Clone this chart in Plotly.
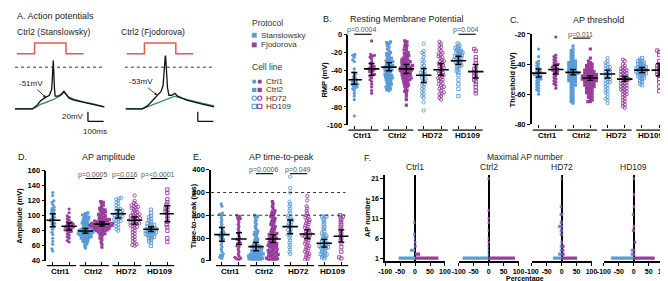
import math
import plotly.graph_objects as go

W, H = 668, 281
BLUE = '#5B9BD5'
PURPLE = '#983D9C'
RED = '#E8574E'
TEAL = '#3F8A78'
TXT = '#222222'
GREY = '#555555'
FONT = 'Liberation Sans, Arial, sans-serif'

cell_lines = ['Ctrl1', 'Ctrl2', 'HD72', 'HD109']
protocols = ['Stanslowsky', 'Fjodorova']
protocol_colors = [BLUE, PURPLE]
line_symbols = ['circle', 'square', 'circle-open', 'square-open']

# ---------------- Panel A: example traces (ms, mV) ----------------
stim_time = [12, 125, 325, 437]
stim_level = [0, 1, 0, 0]
a1_spike_t = [0, 112, 137, 162, 187, 219, 234, 244, 252, 256, 275, 294, 312, 325, 344, 375, 437, 500, 569]
a1_spike_v = [-86, -86, -80, -70, -64, -58, -46, 14, -46, -60, -60, -56, -50, -56, -64, -68, -72, -76, -82]
a1_sub_t = [0, 112, 137, 162, 187, 219, 250, 294, 312, 325, 344, 375, 437, 500, 569]
a1_sub_v = [-86, -86, -82, -77, -74, -70, -66, -58, -52, -56, -62, -66, -72, -76, -82]
a2_spike_t = [6, 112, 144, 175, 206, 231, 244, 259, 272, 281, 300, 319, 337, 394, 487, 569]
a2_spike_v = [-86, -86, -80, -70, -60, -50, -38, 28, -42, -58, -58, -54, -60, -68, -76, -82]
a2_sub_t = [6, 112, 175, 237, 319, 362, 456, 569]
a2_sub_v = [-86, -86, -78, -70, -60, -64, -72, -80]

# ---------------- Panel B: resting membrane potential (mV) ----------------
rmp_ctrl1_s = [-22, -23, -25, -28, -30, -38, -42, -44, -46, -48, -49, -50, -51, -52, -53, -54, -55, -55, -56, -57, -58, -59, -60, -62, -65, -68, -72, -90]
rmp_ctrl1_f = [-7, -22, -23, -24, -25, -27, -30, -32, -34, -35, -36, -37, -38, -38, -39, -40, -41, -42, -44, -45, -46, -48, -50, -52, -55, -58, -62, -65]
rmp_ctrl2_s = [-8, -9, -10, -12, -14, -16, -18, -20, -21, -22, -24, -25, -26, -27, -28, -29, -30, -30, -31, -32, -33, -34, -35, -35, -36, -37, -38, -38, -39, -40, -40, -41, -42, -43, -44, -45, -45, -46, -47, -48, -49, -50, -51, -52, -53, -54, -55, -56, -57, -58, -59, -60, -61, -62, -48]
rmp_ctrl2_f = [-7, -8, -10, -12, -13, -15, -17, -18, -20, -21, -22, -23, -24, -25, -26, -27, -28, -28, -29, -30, -30, -31, -32, -32, -33, -34, -34, -35, -35, -36, -36, -37, -37, -38, -38, -39, -39, -40, -40, -41, -41, -42, -42, -43, -44, -44, -45, -46, -46, -47, -48, -48, -49, -50, -50, -51, -52, -53, -54, -55, -56, -57, -58, -60, -62, -63, -65, -68, -72, -78]
rmp_hd72_s = [-10, -18, -20, -22, -25, -28, -30, -32, -34, -36, -38, -40, -41, -42, -43, -44, -45, -46, -48, -49, -50, -52, -53, -55, -56, -58, -60, -62, -64, -66, -68, -70, -75, -84]
rmp_hd72_f = [-8, -10, -12, -14, -16, -18, -20, -21, -22, -24, -25, -26, -28, -29, -30, -31, -32, -33, -34, -35, -36, -37, -38, -39, -40, -41, -42, -43, -44, -45, -46, -47, -48, -49, -50, -51, -52, -54, -55, -56, -58, -59, -60, -62, -64, -65, -66, -68, -70, -72]
rmp_hd109_s = [-10, -12, -14, -15, -16, -17, -18, -19, -20, -20, -21, -22, -23, -24, -24, -25, -26, -27, -28, -28, -29, -30, -31, -32, -33, -34, -35, -36, -38, -40, -42, -45, -50, -55, -60, -68]
rmp_hd109_f = [-16, -18, -25, -28, -32, -35, -38, -40, -42, -44, -46, -48, -50, -52, -55, -58, -62, -65]
rmp_mean = [-50, -38, -36, -38, -45, -39, -29, -41]
rmp_lo = [-55, -45, -40, -43, -53, -45, -33, -48]
rmp_hi = [-42, -32, -31, -33, -37.5, -32, -24, -33]
rmp_ticks = [0, -20, -40, -60, -80, -100]
rmp_p_pairs = [0, 3]
rmp_p_text = ['p=0.0004', 'p=0.004']

# ---------------- Panel C: AP threshold (mV) ----------------
thr_ctrl1_s = [-30, -35, -38, -39, -40, -41, -42, -43, -44, -45, -45, -46, -47, -47, -48, -48, -49, -50, -50, -51, -52, -53, -54, -55, -56, -57, -58, -60]
thr_ctrl1_f = [-22, -34, -35, -36, -37, -38, -39, -40, -40, -41, -42, -42, -43, -43, -44, -44, -45, -45, -46, -47, -48, -49, -50, -51, -52, -53, -54, -56]
thr_ctrl2_s = [-28, -30, -31, -32, -33, -34, -35, -36, -37, -38, -38, -39, -39, -40, -40, -41, -41, -42, -42, -43, -43, -44, -44, -45, -45, -46, -46, -47, -47, -48, -48, -49, -49, -50, -50, -51, -51, -52, -52, -53, -54, -54, -55, -56, -57, -58, -59, -60, -61, -62, -63, -64, -65, -66, -46]
thr_ctrl2_f = [-30, -36, -38, -39, -40, -40, -41, -41, -42, -42, -43, -43, -44, -44, -44, -45, -45, -45, -46, -46, -46, -47, -47, -47, -48, -48, -48, -48, -49, -49, -49, -49, -50, -50, -50, -50, -51, -51, -51, -51, -52, -52, -52, -53, -53, -53, -54, -54, -54, -55, -55, -55, -56, -56, -57, -57, -58, -58, -59, -59, -60, -60, -61, -62, -62, -63, -64, -65, -65, -47]
thr_hd72_s = [-36, -38, -39, -40, -41, -42, -42, -43, -44, -44, -45, -46, -46, -47, -48, -48, -49, -50, -50, -51, -52, -52, -53, -54, -55, -56, -57, -58, -59, -60, -62, -63, -64, -66]
thr_hd72_f = [-37, -38, -40, -41, -42, -43, -43, -44, -44, -45, -45, -46, -46, -47, -47, -48, -48, -49, -49, -50, -50, -50, -51, -51, -52, -52, -53, -53, -54, -54, -55, -55, -56, -56, -57, -57, -58, -58, -59, -60, -60, -61, -62, -63, -64, -65, -66, -67, -68, -69]
thr_hd109_s = [-36, -37, -38, -38, -39, -39, -40, -40, -41, -41, -42, -42, -42, -43, -43, -43, -44, -44, -44, -45, -45, -45, -46, -46, -46, -47, -47, -48, -48, -49, -49, -50, -51, -52, -53, -54]
thr_hd109_f = [-31, -32, -34, -38, -40, -41, -42, -43, -44, -45, -46, -46, -47, -48, -50, -52, -55, -58]
thr_mean = [-46, -43.6, -45.5, -49.3, -46.6, -50, -44, -44]
thr_lo = [-48.7, -46.6, -47.2, -50.8, -49.3, -51.5, -45.7, -47.8]
thr_hi = [-43.3, -40.8, -43.6, -47.8, -44, -48.3, -42.3, -39.7]
thr_ticks = [-20, -40, -60, -80]
thr_p_pairs = [1]
thr_p_text = ['p=0.011']

# ---------------- Panel D: AP amplitude (mV) ----------------
amp_ctrl1_s = [53, 56, 62, 66, 70, 75, 78, 82, 85, 87, 89, 90, 92, 93, 95, 96, 98, 100, 102, 103, 105, 107, 108, 110, 112, 115, 118, 120, 127, 131]
amp_ctrl1_f = [65, 67, 70, 72, 74, 76, 78, 79, 80, 81, 82, 83, 84, 85, 85, 86, 87, 88, 89, 90, 91, 92, 94, 96, 98, 100, 104, 109]
amp_ctrl2_s = [57, 60, 62, 64, 65, 66, 67, 68, 69, 70, 70, 71, 72, 72, 73, 74, 74, 75, 75, 76, 76, 77, 77, 78, 78, 79, 79, 80, 80, 81, 81, 82, 82, 83, 84, 84, 85, 86, 87, 88, 89, 90, 91, 92, 93, 94, 95, 96, 97, 98, 99, 100, 101, 103, 104]
amp_ctrl2_f = [58, 62, 65, 68, 70, 72, 74, 75, 76, 77, 78, 79, 80, 80, 81, 81, 82, 82, 83, 83, 84, 84, 85, 85, 85, 86, 86, 86, 87, 87, 87, 88, 88, 88, 89, 89, 89, 90, 90, 90, 91, 91, 92, 92, 93, 93, 94, 94, 95, 95, 96, 97, 98, 99, 100, 101, 102, 103, 104, 105, 106, 107, 108, 109, 110, 112, 114, 116, 118, 119]
amp_hd72_s = [80, 82, 84, 86, 88, 90, 92, 93, 94, 95, 96, 97, 98, 99, 100, 100, 101, 102, 103, 104, 105, 106, 107, 108, 109, 110, 112, 114, 116, 118, 120, 122, 123, 124]
amp_hd72_f = [60, 61, 62, 64, 66, 68, 70, 72, 74, 76, 78, 80, 82, 84, 85, 86, 87, 88, 89, 90, 90, 91, 92, 93, 94, 95, 96, 96, 97, 98, 99, 100, 100, 101, 102, 103, 104, 105, 106, 108, 109, 110, 111, 112, 113, 114, 115, 117, 120, 127]
amp_hd109_s = [60, 64, 66, 68, 70, 71, 72, 73, 74, 75, 76, 76, 77, 78, 78, 79, 80, 80, 81, 82, 82, 83, 84, 85, 86, 87, 88, 89, 90, 92, 94, 96, 98, 100, 104, 108]
amp_hd109_f = [65, 70, 80, 85, 88, 92, 96, 100, 104, 106, 108, 110, 112, 115, 118, 122, 130, 135]
amp_mean = [94, 86, 79.7, 88.8, 102.6, 94, 82, 102.6]
amp_lo = [85.3, 81, 76.7, 86.2, 97, 88.8, 79, 92]
amp_hi = [102.6, 90.5, 83, 91.8, 107.8, 98.3, 85.3, 113.4]
amp_ticks = [40, 60, 80, 100, 120, 140, 160]
amp_p_pairs = [1, 2, 3]
amp_p_text = ['p=0.0005', 'p=0.016', 'p=<0.0001']

# ---------------- Panel E: AP time-to-peak (ms) ----------------
ttp_ctrl1_s = [10, 15, 20, 25, 30, 40, 50, 60, 70, 80, 90, 95, 100, 105, 110, 115, 120, 125, 130, 140, 150, 160, 170, 180, 190, 200, 205, 210, 240, 250]
ttp_ctrl1_f = [5, 8, 12, 15, 20, 30, 40, 50, 60, 65, 70, 75, 80, 90, 95, 100, 110, 120, 130, 140, 150, 160, 170, 180, 185, 190, 195, 200]
ttp_ctrl2_s = [0, 2, 3, 5, 6, 8, 10, 12, 14, 15, 16, 18, 20, 22, 24, 25, 26, 28, 30, 32, 34, 35, 38, 40, 42, 45, 48, 50, 52, 55, 58, 60, 62, 65, 68, 70, 75, 80, 85, 90, 95, 100, 110, 115, 120, 125, 130, 140, 150, 160, 170, 180, 190, 195, 200]
ttp_ctrl2_f = [0, 2, 4, 6, 8, 10, 12, 15, 18, 20, 22, 25, 28, 30, 32, 35, 38, 40, 42, 45, 48, 50, 55, 58, 60, 62, 65, 68, 70, 72, 75, 78, 80, 85, 88, 90, 95, 98, 100, 105, 110, 112, 115, 120, 125, 130, 135, 140, 145, 150, 155, 160, 165, 170, 175, 180, 185, 190, 195, 200, 205, 210, 215, 220, 230, 240, 250, 260, 100, 120]
ttp_hd72_s = [30, 40, 50, 60, 70, 80, 90, 100, 110, 115, 120, 130, 135, 140, 150, 155, 160, 165, 170, 175, 180, 185, 190, 195, 200, 210, 220, 230, 240, 250, 260, 300, 320, 370]
ttp_hd72_f = [0, 5, 10, 15, 20, 25, 30, 35, 40, 45, 50, 55, 60, 65, 70, 75, 80, 85, 90, 95, 100, 105, 108, 110, 112, 115, 118, 120, 125, 130, 135, 140, 145, 150, 155, 160, 165, 170, 175, 180, 185, 190, 195, 200, 210, 220, 230, 240, 265, 285]
ttp_hd109_s = [10, 15, 20, 25, 28, 30, 35, 40, 45, 50, 55, 58, 60, 62, 65, 68, 70, 75, 80, 85, 90, 95, 100, 105, 110, 115, 120, 130, 140, 150, 160, 170, 180, 190, 195, 195]
ttp_hd109_f = [10, 15, 40, 60, 80, 90, 100, 110, 120, 130, 140, 150, 160, 170, 180, 190, 200, 195]
ttp_mean = [115, 96, 62, 96, 150, 118, 77, 108]
ttp_lo = [86, 72, 44, 80, 119, 98, 60, 82]
ttp_hi = [146, 123, 81, 115, 179, 136, 94, 136]
ttp_ticks = [0, 100, 200, 300, 400]
ttp_ref_lines = [200, 300]
ttp_p_pairs = [1, 2]
ttp_p_text = ['p=0.0006', 'p=0.049']

# ---------------- Panel F: maximal AP number (% of cells) ----------------
ap_number = list(range(1, 22))
ap_ticks = [1, 6, 11, 16, 21]
pct_ticks = [-100, -50, 0, 50, 100]
ctrl1_s_pct = [55, 0, 17, 0, 3, 3, 5, 0, 0, 5, 0, 0, 0, 0, 0, 0, 0, 0, 0, 0, 0]
ctrl1_f_pct = [78, 17, 0, 5, 4, 0, 0, 0, 0, 0, 0, 0, 0, 0, 0, 0, 0, 0, 0, 0, 0]
ctrl2_s_pct = [87, 3, 3, 3, 0, 3, 0, 3, 0, 0, 0, 0, 0, 0, 0, 0, 0, 0, 0, 0, 0]
ctrl2_f_pct = [88, 0, 0, 0, 4, 0, 0, 0, 0, 4, 4, 0, 4, 0, 0, 0, 0, 0, 0, 0, 4]
hd72_s_pct = [29, 12, 5, 5, 3, 0, 5, 5, 12, 5, 0, 7, 0, 5, 0, 0, 0, 0, 0, 0, 3]
hd72_f_pct = [52, 10, 9, 10, 4, 0, 5, 4, 4, 4, 0, 5, 0, 0, 0, 0, 0, 0, 0, 0, 0]
hd109_s_pct = [76, 10, 10, 0, 0, 0, 0, 4, 0, 0, 0, 5, 0, 0, 0, 0, 0, 0, 0, 0, 0]
hd109_f_pct = [70, 5, 5, 0, 8, 0, 0, 4, 4, 0, 0, 0, 0, 4, 0, 0, 4, 0, 0, 0, 4]
f_stans = [ctrl1_s_pct, ctrl2_s_pct, hd72_s_pct, hd109_s_pct]
f_fjod = [ctrl1_f_pct, ctrl2_f_pct, hd72_f_pct, hd109_f_pct]


def PX(px):
    return px / W


def PY(py):
    return 1 - py / H


def swarm(vals, ppu, d):
    """Beeswarm offsets (px) for values, ppu = px per data unit."""
    n = len(vals)
    order = sorted(range(n), key=lambda i: vals[i])
    placed = []
    offs = [0.0] * n
    for i in order:
        y = vals[i] * ppu
        near = [(xj, yj) for (xj, yj) in placed if abs(y - yj) < d]
        cands = [0.0]
        for xj, yj in near:
            dx = math.sqrt(max(d * d - (y - yj) ** 2, 0))
            cands += [xj + dx, xj - dx]
        cands.sort(key=lambda c: (abs(c), c))
        for c in cands:
            if all((c - xj) ** 2 + (y - yj) ** 2 >= d * d - 1e-6 for xj, yj in near):
                offs[i] = c
                placed.append((c, y))
                break
    return offs


fig = go.Figure()
layout = dict(width=W, height=H, margin=dict(l=0, r=0, t=0, b=0),
              paper_bgcolor='white', plot_bgcolor='white', showlegend=False,
              barmode='overlay', font=dict(family=FONT, color=TXT))
annotations = []
shapes = []


def ann(text, px, py, size=8, xanchor='center', bold=False, color=TXT, angle=0):
    annotations.append(dict(text=('<b>%s</b>' % text) if bold else text, x=PX(px), y=PY(py),
                            xref='paper', yref='paper', showarrow=False, xanchor=xanchor,
                            yanchor='middle', textangle=angle,
                            font=dict(size=size, color=color, family=FONT)))


def hline_px(x0, x1, py, width=1, color='black', dash='solid'):
    shapes.append(dict(type='line', xref='paper', yref='paper', x0=PX(x0), x1=PX(x1),
                       y0=PY(py), y1=PY(py), line=dict(color=color, width=width, dash=dash)))


# ---------------- Panel A ----------------
hidden = dict(visible=False, showgrid=False, zeroline=False)
layout['xaxis'] = dict(domain=[PX(0), PX(100)], range=[0, 625], anchor='y', **hidden)
layout['yaxis'] = dict(domain=[PY(125), PY(28)], range=[-136, 58], anchor='x', **hidden)
layout['xaxis2'] = dict(domain=[PX(112), PX(212)], range=[0, 625], anchor='y2', **hidden)
layout['yaxis2'] = dict(domain=[PY(125), PY(28)], range=[-136, 58], anchor='x2', **hidden)
layout['yaxis11'] = dict(domain=[PY(45), PY(30)], range=[-0.18, 1.18], anchor='x', **hidden)
layout['yaxis12'] = dict(domain=[PY(45), PY(30)], range=[-0.18, 1.18], anchor='x2', **hidden)

for xa, ya, sa, st, sv, kt, kv in [('x', 'y', 'y11', a1_sub_t, a1_sub_v, a1_spike_t, a1_spike_v),
                                   ('x2', 'y2', 'y12', a2_sub_t, a2_sub_v, a2_spike_t, a2_spike_v)]:
    fig.add_trace(go.Scatter(x=stim_time, y=stim_level, mode='lines', line=dict(color=RED, width=1.5, shape='hv'),
                             xaxis=xa, yaxis=sa, hoverinfo='skip'))
    fig.add_trace(go.Scatter(x=st, y=sv, mode='lines', line=dict(color=TEAL, width=1.4),
                             xaxis=xa, yaxis=ya, hoverinfo='skip'))
    fig.add_trace(go.Scatter(x=kt, y=kv, mode='lines', line=dict(color='#111111', width=1.3),
                             xaxis=xa, yaxis=ya, hoverinfo='skip'))
    shapes.append(dict(type='line', xref=xa, yref=ya, x0=0, x1=565, y0=0, y1=0,
                       line=dict(color='#333333', width=1, dash='dot')))
    # scale bars: 20 mV, 100 ms
    shapes.append(dict(type='line', xref=xa, yref=ya, x0=465, x1=465, y0=-112, y1=-92,
                       line=dict(color='#111111', width=1.3)))
    shapes.append(dict(type='line', xref=xa, yref=ya, x0=465, x1=565, y0=-112, y1=-112,
                       line=dict(color='#111111', width=1.3)))

annotations.append(dict(text='-51mV', x=198, y=-63, xref='x', yref='y', ax=100, ay=-34, axref='x', ayref='y',
                        showarrow=True, arrowhead=2, arrowsize=0.7, arrowwidth=0.8, arrowcolor='#111',
                        font=dict(size=8, color=TXT, family=FONT)))
annotations.append(dict(text='-53mV', x=206, y=-58, xref='x2', yref='y2', ax=100, ay=-30, axref='x2', ayref='y2',
                        showarrow=True, arrowhead=2, arrowsize=0.7, arrowwidth=0.8, arrowcolor='#111',
                        font=dict(size=8, color=TXT, family=FONT)))
ann('A. Action potentials', 0, 4, size=9, xanchor='left')
ann('Ctrl2 (Stanslowsky)', 0, 21, size=8.5, xanchor='left')
ann('Ctrl2 (Fjodorova)', 106, 21, size=8.5, xanchor='left')
ann('20mV', 72, 108, size=8, xanchor='right')
ann('100ms', 82, 123, size=8)

# ---------------- Legend ----------------
ann('Protocol', 240, 11, size=8.5, xanchor='left', color='#333')
ann('Stanslowsky', 248.5, 24, size=8, xanchor='left', color='#333')
ann('Fjodorova', 248.5, 34, size=8, xanchor='left', color='#333')
ann('Cell line', 240, 57, size=8.5, xanchor='left', color='#333')
for k, col in enumerate(protocol_colors):
    yy = 24 + 10 * k
    shapes.append(dict(type='rect', xref='paper', yref='paper', x0=PX(241.5), x1=PX(246.5),
                       y0=PY(yy + 2.5), y1=PY(yy - 2.5), fillcolor=col, line=dict(width=0)))
leg_rows = [72, 80.5, 89, 97.5]
for g, name in enumerate(cell_lines):
    yy = leg_rows[g]
    ann(name, 254, yy, size=8, xanchor='left', color='#333')
    for k, col in enumerate(protocol_colors):
        cx = 244 + 5.6 * k
        filled = g < 2
        kind = 'circle' if g in (0, 2) else 'rect'
        r = 2.2
        shapes.append(dict(type=kind, xref='paper', yref='paper', x0=PX(cx - r), x1=PX(cx + r),
                           y0=PY(yy + r), y1=PY(yy - r),
                           fillcolor=col if filled else 'rgba(0,0,0,0)',
                           line=dict(color=col, width=0 if filled else 1.1)))

# ---------------- Scatter panels B-E ----------------
panels = [
    dict(n=3, vals=[rmp_ctrl1_s, rmp_ctrl1_f, rmp_ctrl2_s, rmp_ctrl2_f, rmp_hd72_s, rmp_hd72_f, rmp_hd109_s, rmp_hd109_f],
         mean=rmp_mean, lo=rmp_lo, hi=rmp_hi, ticks=rmp_ticks, xdom=(340, 482), ydom=(23.3, 116.7),
         first=346, step=17.7, yr=(-100, 0), ytitle='RMP (mV)', ytx=316,
         pairs=rmp_p_pairs, ptext=rmp_p_text, ptpy=18.5, plpy=23, ulpy=122, labpy=127.5,
         letter='B.', letpx=(312, 7.5), title='Resting Membrane Potential', titpx=(400, 7.5)),
    dict(n=4, vals=[thr_ctrl1_s, thr_ctrl1_f, thr_ctrl2_s, thr_ctrl2_f, thr_hd72_s, thr_hd72_f, thr_hd109_s, thr_hd109_f],
         mean=thr_mean, lo=thr_lo, hi=thr_hi, ticks=thr_ticks, xdom=(527, 662), ydom=(22.7, 116),
         first=534, step=17.57, yr=(-80, -20), ytitle='Threshold (mV)', ytx=507,
         pairs=thr_p_pairs, ptext=thr_p_text, ptpy=23.5, plpy=27, ulpy=122, labpy=127.5,
         letter='C.', letpx=(503, 8), title='AP threshold', titpx=(595, 8)),
    dict(n=5, vals=[amp_ctrl1_s, amp_ctrl1_f, amp_ctrl2_s, amp_ctrl2_f, amp_hd72_s, amp_hd72_f, amp_hd109_s, amp_hd109_f],
         mean=amp_mean, lo=amp_lo, hi=amp_hi, ticks=amp_ticks, xdom=(32, 162), ydom=(164, 257),
         first=38.5, step=16.7, yr=(40, 160), ytitle='Amplitude (mV)', ytx=5,
         pairs=amp_p_pairs, ptext=amp_p_text, ptpy=168, plpy=172, ulpy=262, labpy=268,
         letter='D.', letpx=(1, 150), title='AP amplitude', titpx=(95, 150)),
    dict(n=6, vals=[ttp_ctrl1_s, ttp_ctrl1_f, ttp_ctrl2_s, ttp_ctrl2_f, ttp_hd72_s, ttp_hd72_f, ttp_hd109_s, ttp_hd109_f],
         mean=ttp_mean, lo=ttp_lo, hi=ttp_hi, ticks=ttp_ticks, xdom=(200, 340), ydom=(163, 257),
         first=211, step=17.4, yr=(0, 400), ytitle='Time-to-peak (ms)', ytx=181.5,
         pairs=ttp_p_pairs, ptext=ttp_p_text, ptpy=163, plpy=167, ulpy=262, labpy=268,
         letter='E.', letpx=(180, 150), title='AP time-to-peak', titpx=(272, 150)),
]

for P in panels:
    n = P['n']
    xr = ((P['xdom'][0] - P['first']) / P['step'], (P['xdom'][1] - P['first']) / P['step'])
    ppu_y = (P['ydom'][1] - P['ydom'][0]) / (P['yr'][1] - P['yr'][0])
    layout['xaxis%d' % n] = dict(domain=[PX(P['xdom'][0]), PX(P['xdom'][1])], range=list(xr), anchor='y%d' % n,
                                 tickvals=list(range(8)), showticklabels=False, ticks='outside', ticklen=3,
                                 tickwidth=1, tickcolor='black', showline=False, showgrid=False, zeroline=False)
    layout['yaxis%d' % n] = dict(domain=[PY(P['ydom'][1]), PY(P['ydom'][0])], range=list(P['yr']),
                                 anchor='x%d' % n, tickvals=P['ticks'], ticktext=[str(t) for t in P['ticks']],
                                 ticks='outside', ticklen=3, tickwidth=1.2, tickcolor='black',
                                 showline=True, linecolor='black', linewidth=1.5, showgrid=False, zeroline=False,
                                 tickfont=dict(size=7.5, family=FONT, color='black', weight='bold'))
    for gi, vals in enumerate(P['vals']):
        g, p = gi // 2, gi % 2
        col = protocol_colors[p]
        sym = line_symbols[g]
        offs = swarm(vals, ppu_y, 2.45)
        xs = [gi + o / P['step'] for o in offs]
        fig.add_trace(go.Scatter(x=xs, y=vals, mode='markers', xaxis='x%d' % n, yaxis='y%d' % n,
                                 marker=dict(symbol=sym, size=3.2 if g < 2 else 3.3, color=col,
                                             line=dict(color=col, width=0.9 if g >= 2 else 0)),
                                 hoverinfo='skip'))
    fig.add_trace(go.Scatter(x=list(range(8)), y=P['mean'], mode='markers', xaxis='x%d' % n, yaxis='y%d' % n,
                             marker=dict(symbol='line-ew', size=11, line=dict(color='black', width=1.6)),
                             error_y=dict(type='data', symmetric=False,
                                          array=[h - m for h, m in zip(P['hi'], P['mean'])],
                                          arrayminus=[m - l for m, l in zip(P['mean'], P['lo'])],
                                          color='black', thickness=1.4, width=3),
                             hoverinfo='skip'))

    def gx(i, P=P):
        return P['first'] + P['step'] * i

    for k, name in enumerate(cell_lines):
        xs_, xf_ = gx(2 * k), gx(2 * k + 1)
        hline_px(xs_ - 6, xf_ + 7, P['ulpy'], width=1.2)
        ann(name, (xs_ + xf_) / 2, P['labpy'], size=8, bold=True, color='black')
    for k, txt in zip(P['pairs'], P['ptext']):
        xs_, xf_ = gx(2 * k), gx(2 * k + 1)
        hline_px(xs_, xf_, P['plpy'], width=1.1)
        ann(txt, (xs_ + xf_) / 2 - 1, P['ptpy'], size=7, color=GREY)
    ann(P['letter'], P['letpx'][0], P['letpx'][1], size=9, xanchor='left')
    ann(P['title'], P['titpx'][0], P['titpx'][1], size=9)
    ann(P['ytitle'], P['ytx'], (P['ydom'][0] + P['ydom'][1]) / 2, size=7.5, bold=True, color='black', angle=-90)

# dotted reference lines in E
for v in ttp_ref_lines:
    shapes.append(dict(type='line', xref='x6', yref='y6', x0=(200 - 211) / 17.4, x1=(337 - 211) / 17.4,
                       y0=v, y1=v, line=dict(color='#333', width=1, dash='dot')))

# ---------------- Panel F ----------------
f_zero_px = [408, 483, 557.5, 631]
for k, name in enumerate(cell_lines):
    n = 7 + k
    z = f_zero_px[k]
    layout['xaxis%d' % n] = dict(domain=[PX(z - 30.5), PX(z + 30.5)], range=[-100, 100], anchor='y%d' % n,
                                 tickvals=pct_ticks, ticktext=[str(t) for t in pct_ticks],
                                 ticks='outside', ticklen=3, tickwidth=1.2, tickcolor='black',
                                 showline=True, linecolor='black', linewidth=1.5, showgrid=False,
                                 zeroline=True, zerolinecolor='black', zerolinewidth=1.5,
                                 tickfont=dict(size=7, family=FONT, color='black', weight='bold'))
    ydict = dict(domain=[PY(257), PY(168)], range=[0.34, 22.05], anchor='x%d' % n, showgrid=False, zeroline=False)
    if k == 0:
        ydict.update(tickvals=ap_ticks, ticktext=[str(t) for t in ap_ticks], ticks='outside', ticklen=3,
                     tickwidth=1.2, tickcolor='black', showline=True, linecolor='black', linewidth=1.5,
                     tickfont=dict(size=7, family=FONT, color='black', weight='bold'))
    else:
        ydict.update(showline=False, showticklabels=False, ticks='')
    layout['yaxis%d' % n] = ydict
    fig.add_trace(go.Bar(x=[-v for v in f_stans[k]], y=ap_number, orientation='h', width=0.8,
                         marker=dict(color=BLUE, line=dict(width=0)), xaxis='x%d' % n, yaxis='y%d' % n,
                         hoverinfo='skip'))
    fig.add_trace(go.Bar(x=f_fjod[k], y=ap_number, orientation='h', width=0.8,
                         marker=dict(color=PURPLE, line=dict(width=0)), xaxis='x%d' % n, yaxis='y%d' % n,
                         hoverinfo='skip'))
    ann(name, z, 160.5, size=8.5)

ann('F.', 354, 151, size=9, xanchor='left')
ann('Maximal AP number', 520, 150, size=8.5)
ann('Percentage', 520, 276.3, size=7, bold=True, color='black')
ann('AP number', 359, 212, size=7.5, bold=True, color='black', angle=-90)

layout['annotations'] = annotations
layout['shapes'] = shapes
fig.update_layout(**layout)
fig.write_html('out.html')
